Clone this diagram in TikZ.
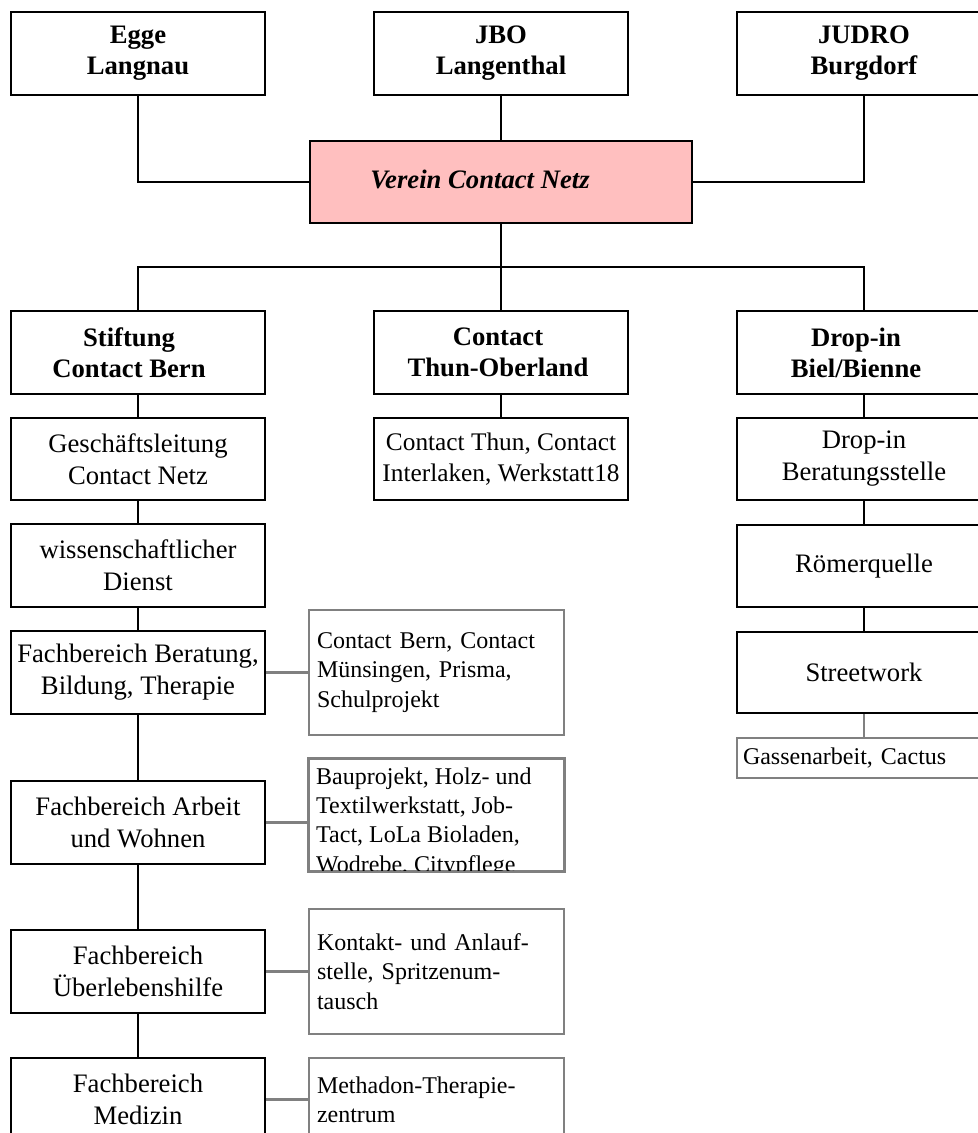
\documentclass[tikz,border=0pt]{standalone}
\usepackage{fontspec}
\setmainfont{Liberation Serif}
\definecolor{pinkfill}{RGB}{255,191,191}
\definecolor{graybd}{RGB}{128,128,128}
\begin{document}
\begin{tikzpicture}[x=0.75pt,y=-0.75pt,
  bx/.style={draw=black, line width=1.6pt, fill=white, inner sep=0pt,
    minimum width=190.5pt, minimum height=62.25pt, align=center,
    font=\fontsize{20}{24}\selectfont},
  hd/.style={bx, font=\fontsize{20}{23.25}\selectfont\bfseries},
  hdtext/.style={inner sep=0pt, align=center, font=\fontsize{20}{23.25}\selectfont\bfseries},
  gbox/.style={draw=graybd, line width=1.6pt, fill=white, inner xsep=6pt, inner ysep=0pt,
    text width=179.25pt, minimum height=93.75pt, align=left,
    font=\fontsize{18}{22}\selectfont},
  conn/.style={draw=black, line width=1.6pt},
  gconn/.style={draw=graybd, line width=1.6pt}]
\useasboundingbox (0,0) rectangle (978,1133);

% top row
\node[hd] (egge)  at (138,53.5) {Egge\\Langnau};
\node[hd] (jbo) at (501,53.5) {JBO\\Langenthal};
\node[hd] (judro) at (864,53.5) {JUDRO\\Burgdorf};

% central box
\node[bx, fill=pinkfill, minimum width=286.5pt, minimum height=61.5pt] (verein) at (501,182) {};
\node[inner sep=0pt, font=\fontsize{20}{24}\selectfont\bfseries\itshape] (vtext) at (480,179) {Verein Contact Netz};

% second row
\coordinate (bus) at (501,267);
\node[hd] (stiftung) at (138,352.5) {};
\node[hdtext] (stiftungtext) at (129,352.5) {Stiftung\\Contact Bern};
\node[hd] (thun) at (501,352.5) {};
\node[hdtext] (thuntext) at (498,352.5) {Contact\\Thun-Oberland};
\node[hd] (dropin) at (864,352.5) {};
\node[hdtext] (dropintext) at (856,352.5) {Drop-in\\Biel/Bienne};

% left column
\node[bx, minimum height=61.5pt] (gl) at (138,459) {Geschäftsleitung\\Contact Netz};
\node[bx] (wd) at (138,565.5) {wissenschaftlicher\\Dienst};
\node[bx] (fb1) at (138,672.5) {Fachbereich Beratung,\\Bildung, Therapie};
\node[bx] (fb2) at (138,822.5) {Fachbereich Arbeit\\und Wohnen};
\node[bx] (fb3) at (138,971.5) {Fachbereich\\Überlebenshilfe};
\node[bx] (fb4) at (138,1099.5) {Fachbereich\\Medizin};

% middle column
\node[bx, minimum height=61.5pt, font=\fontsize{19}{23}\selectfont] (thunsub) at (501,459) {Contact Thun, Contact\\Interlaken, Werkstatt18};

% right column
\node[bx, minimum height=61.5pt] (db) at (864,459) {Drop-in\\Beratungsstelle};
\node[bx, minimum height=61.5pt] (rq) at (864,566) {Römerquelle};
\node[bx, minimum height=60.75pt] (sw) at (864,672.5) {Streetwork};
\node[gbox, minimum height=30pt, text width=181.5pt, inner xsep=4.5pt] (ga) at (864,758) {Gassenarbeit, Cactus};

% gray boxes
\node[gbox] (g1) at (436.5,672.5) {Contact Bern, Contact\\Münsingen, Prisma,\\Schulprojekt};
\node[gbox, minimum height=84pt] (g2) at (436.5,815) {};
\begin{scope}
  \clip (g2.north west) rectangle (g2.south east);
  \node[anchor=west, inner sep=0pt, align=left, font=\fontsize{18}{22}\selectfont] (g2text)
    at ([xshift=6pt]g2.west |- fb2.center) {Bauprojekt, Holz- und\\Textilwerkstatt, Job-\\Tact, LoLa Bioladen,\\Wodrebe, Citypflege};
\end{scope}
\draw[gconn] (g2.north west) rectangle (g2.south east);
\node[gbox] (g3) at (436.5,971.5) {Kontakt- und Anlauf-\\stelle, Spritzenum-\\tausch};
\node[gbox, minimum height=62.25pt] (g4) at (436.5,1099.5) {Methadon-Therapie-\\zentrum};

% connectors
\draw[conn] (egge.south) |- (verein.west);
\draw[conn] (jbo.south) -- (verein.north);
\draw[conn] (judro.south) |- (verein.east);
\draw[conn] (verein.south) -- (thun.north);
\draw[conn] (stiftung.north) |- (bus) -| (dropin.north);
\draw[conn] (stiftung.south) -- (gl.north);
\draw[conn] (gl.south) -- (wd.north);
\draw[conn] (wd.south) -- (fb1.north);
\draw[conn] (fb1.south) -- (fb2.north);
\draw[conn] (fb2.south) -- (fb3.north);
\draw[conn] (fb3.south) -- (fb4.north);
\draw[conn] (thun.south) -- (thunsub.north);
\draw[conn] (dropin.south) -- (db.north);
\draw[conn] (db.south) -- (rq.north);
\draw[conn] (rq.south) -- (sw.north);
\draw[gconn] (sw.south) -- (ga.north);
\draw[gconn] (fb1.east) -- (fb1.east -| g1.west);
\draw[gconn] (fb2.east) -- (fb2.east -| g2.west);
\draw[gconn] (fb3.east) -- (fb3.east -| g3.west);
\draw[gconn] (fb4.east) -- (fb4.east -| g4.west);
\end{tikzpicture}
\end{document}
